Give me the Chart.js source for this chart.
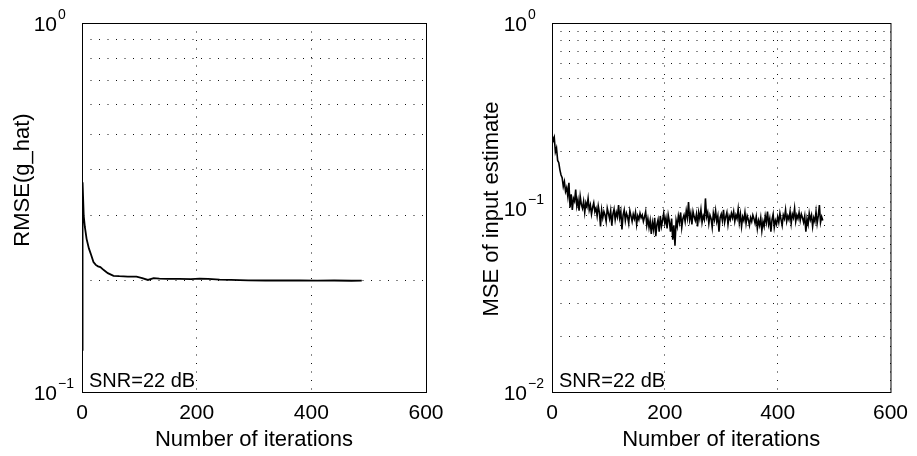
<!DOCTYPE html>
<html lang="en">
<head>
<meta charset="UTF-8">
<title>RMSE and MSE vs number of iterations</title>
<script src="https://cdn.jsdelivr.net/npm/chart.js"></script>
<style>
  body { margin: 0; background: #fff; }
  .panel { position: absolute; top: 0; height: 456px; }
  #left { left: 0; width: 470px; }
  #right { left: 470px; width: 447px; }
</style>
</head>
<body>
<div class="panel" id="left"><canvas id="rmseChart" width="470" height="456"></canvas></div>
<div class="panel" id="right"><canvas id="mseChart" width="447" height="456"></canvas></div>
<script>
// x axis (shared)
const xTicks = [0, 200, 400, 600];

// left: RMSE(g_hat)
const rmseIter = [0, 1, 3, 5, 8, 12, 16, 20, 24, 28, 32, 38, 45, 55, 65, 80, 95, 105, 115, 125,
                  135, 150, 170, 190, 205, 220, 240, 260, 290, 320, 350, 380, 410, 440, 470, 488];
const rmseVals = [0.13, 0.37, 0.30, 0.28, 0.26, 0.245, 0.235, 0.225, 0.221, 0.219, 0.218, 0.214, 0.21, 0.2065,
                  0.206, 0.2055, 0.2055, 0.2035, 0.2012, 0.2035, 0.203, 0.2025, 0.2025, 0.2022, 0.2028, 0.2025,
                  0.2015, 0.2012, 0.2008, 0.2005, 0.2008, 0.2005, 0.2003, 0.2005, 0.2002, 0.2003];
const rmseTicks = [0.1, 0.2, 0.3, 0.4, 0.5, 0.6, 0.7, 0.8, 0.9, 1];

// right: MSE of input estimate, one value every 2 iterations
const mseStep = 2;
const mseVals = [
  0.25, 0.23, 0.24, 0.2, 0.21, 0.18, 0.175, 0.16, 0.15, 0.145, 0.13, 0.138, 0.122, 0.128, 0.115, 0.136, 0.1, 0.118, 0.097, 0.112,
  0.108, 0.125, 0.102, 0.11, 0.096, 0.115, 0.104, 0.099, 0.108, 0.094, 0.106, 0.101, 0.112, 0.097, 0.103, 0.092, 0.1, 0.106, 0.095, 0.099,
  0.09, 0.102, 0.094, 0.079, 0.097, 0.088, 0.095, 0.091, 0.084, 0.099, 0.093, 0.087, 0.096, 0.08, 0.092, 0.098, 0.086, 0.094, 0.089, 0.103,
  0.088, 0.095, 0.076, 0.091, 0.097, 0.085, 0.093, 0.089, 0.082, 0.096, 0.09, 0.084, 0.092, 0.087, 0.094, 0.081, 0.09, 0.086, 0.093, 0.088,
  0.091, 0.084, 0.089, 0.095, 0.08, 0.087, 0.078, 0.085, 0.072, 0.083, 0.076, 0.088, 0.07, 0.081, 0.086, 0.074, 0.09, 0.079, 0.085, 0.093,
  0.082, 0.088, 0.077, 0.091, 0.084, 0.074, 0.087, 0.067, 0.08, 0.062, 0.085, 0.079, 0.09, 0.083, 0.094, 0.078, 0.087, 0.091, 0.084, 0.096,
  0.088, 0.107, 0.086, 0.093, 0.081, 0.095, 0.089, 0.085, 0.092, 0.079, 0.094, 0.087, 0.097, 0.083, 0.09, 0.086, 0.112, 0.089, 0.094, 0.082,
  0.091, 0.087, 0.078, 0.093, 0.086, 0.096, 0.084, 0.09, 0.074, 0.088, 0.092, 0.085, 0.097, 0.083, 0.089, 0.094, 0.081, 0.09, 0.086, 0.093,
  0.088, 0.095, 0.084, 0.091, 0.087, 0.098, 0.083, 0.092, 0.079, 0.089, 0.085, 0.094, 0.082, 0.09, 0.086, 0.08, 0.088, 0.084, 0.091, 0.087,
  0.082, 0.089, 0.077, 0.085, 0.08, 0.088, 0.075, 0.084, 0.079, 0.09, 0.083, 0.095, 0.081, 0.087, 0.074, 0.086, 0.092, 0.078, 0.085, 0.081,
  0.089, 0.083, 0.093, 0.086, 0.08, 0.091, 0.087, 0.097, 0.084, 0.09, 0.086, 0.095, 0.082, 0.092, 0.088, 0.099, 0.084, 0.091, 0.087, 0.094,
  0.085, 0.092, 0.088, 0.083, 0.09, 0.074, 0.087, 0.081, 0.093, 0.086, 0.091, 0.079, 0.088, 0.084, 0.095, 0.082, 0.09, 0.103, 0.083, 0.089,
  0.085
];
const mseIter = mseVals.map((v, i) => i * mseStep);
const mseTicks = [0.01, 0.02, 0.03, 0.04, 0.05, 0.06, 0.07, 0.08, 0.09,
                  0.1, 0.2, 0.3, 0.4, 0.5, 0.6, 0.7, 0.8, 0.9, 1];

const family = '"Liberation Sans", Arial, Helvetica, sans-serif';

// box frame, 10^n labels, rotated y title and the SNR note
const decorations = {
  id: 'decorations',
  afterDraw(chart, args, opts) {
    const { ctx, chartArea: a } = chart;
    const y = chart.scales.y;
    ctx.save();
    ctx.strokeStyle = '#000';
    ctx.lineWidth = 1;
    ctx.strokeRect(a.left + 0.5, a.top + 0.5, a.right - a.left, a.bottom - a.top);

    ctx.fillStyle = '#000';
    opts.decades.forEach(d => {
      const py = y.getPixelForValue(Math.pow(10, d));
      ctx.font = '21px ' + family;
      ctx.textAlign = 'right';
      ctx.textBaseline = 'middle';
      ctx.fillText('10', a.left - 25, py + 2.5);
      ctx.font = '14px ' + family;
      ctx.textAlign = 'left';
      ctx.fillText(d === 0 ? '0' : '\u2212' + (-d), a.left - 24, py - 7.5);
    });

    ctx.save();
    ctx.translate(opts.titleX, opts.titleY);
    ctx.rotate(-Math.PI / 2);
    ctx.font = '22px ' + family;
    ctx.textAlign = 'center';
    ctx.textBaseline = 'middle';
    ctx.fillText(opts.title, 0, 0);
    ctx.restore();

    ctx.font = '20px ' + family;
    ctx.textAlign = 'left';
    ctx.textBaseline = 'alphabetic';
    ctx.fillText('SNR=22 dB', a.left + 7, a.bottom - 5);
    ctx.restore();
  }
};

function makeChart(id, iters, vals, yMin, yMax, yTicks, lineW, deco) {
  const ctx = document.getElementById(id).getContext('2d');
  const W = ctx.canvas.width;
  return new Chart(ctx, {
    type: 'line',
    data: {
      datasets: [{
        data: iters.map((x, i) => ({ x: x, y: vals[i] })),
        borderColor: '#000',
        borderWidth: lineW,
        pointRadius: 0,
        tension: 0,
        fill: false
      }]
    },
    options: {
      responsive: false,
      animation: false,
      layout: { padding: { left: 0, top: 23, right: W - 426, bottom: 0 } },
      plugins: { legend: { display: false }, tooltip: { enabled: false }, decorations: deco },
      scales: {
        x: {
          type: 'linear',
          min: 0,
          max: 600,
          afterBuildTicks: s => { s.ticks = xTicks.map(v => ({ value: v })); },
          afterFit: s => { s.height = 64; },
          ticks: { font: { family: family, size: 21 }, color: '#000', padding: 9, maxRotation: 0 },
          grid: { color: '#111', lineWidth: 1, drawTicks: false },
          border: { display: false, dash: [1, 7.5] },
          title: {
            display: true,
            text: 'Number of iterations',
            font: { family: family, size: 22 },
            color: '#000',
            padding: { top: 0, bottom: 3 }
          }
        },
        y: {
          type: 'logarithmic',
          min: yMin,
          max: yMax,
          afterBuildTicks: s => { s.ticks = yTicks.map(v => ({ value: v })); },
          afterFit: s => { s.width = 82; },
          ticks: { display: false },
          grid: { color: '#111', lineWidth: 1, drawTicks: false },
          border: { display: false, dash: [1, 7.5] }
        }
      }
    },
    plugins: [decorations]
  });
}

makeChart('rmseChart', rmseIter, rmseVals, 0.1, 1, rmseTicks, 1.8,
  { decades: [0, -1], title: 'RMSE(g_hat)', titleX: 23, titleY: 180 });
makeChart('mseChart', mseIter, mseVals, 0.01, 1, mseTicks, 1.6,
  { decades: [0, -1, -2], title: 'MSE of input estimate', titleX: 22, titleY: 209 });
</script>
</body>
</html>
